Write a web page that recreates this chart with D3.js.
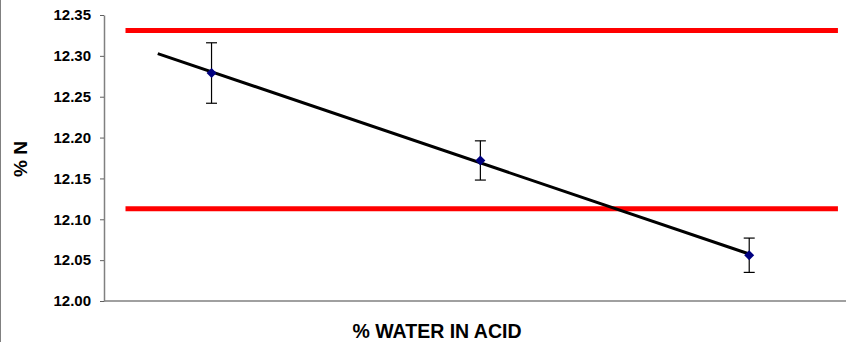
<!DOCTYPE html>
<html>
<head>
<meta charset="utf-8">
<script src="https://cdn.jsdelivr.net/npm/d3@7"></script>
<style>
  html, body { margin: 0; padding: 0; background: #fff; }
  svg { display: block; font-family: Arial, "Liberation Sans", sans-serif; }
</style>
</head>
<body>
<svg id="chart" width="846" height="342"></svg>
<script>
// Sample positions (water content, arbitrary units) and measured nitrogen
const waterLevels = [1, 2, 3];
const nitrogenPct = [12.279, 12.172, 12.056];
const nitrogenErr = [0.037, 0.024, 0.021];

// Specification limits for % N
const specLimits = [12.113, 12.331];
const specSpan = [0.68, 3.33];

// Trendline drawn from this x (backward forecast) to the last sample
const trendStart = 0.8;

const yTicks = [12.00, 12.05, 12.10, 12.15, 12.20, 12.25, 12.30, 12.35];
const xTitle = "% WATER IN ACID";
const yTitle = "% N";

const W = 846, H = 342;
const plot = { left: 104, right: 846, top: 15, bottom: 301 };

const svg = d3.select("#chart");

// Frame edge on the left
svg.append("line")
  .attr("x1", 0.5).attr("x2", 0.5).attr("y1", 0).attr("y2", H)
  .attr("stroke", "#808080").attr("stroke-width", 1);

const x = d3.scaleLinear().domain([0.6, 3.36]).range([plot.left, plot.right]);
const y = d3.scaleLinear().domain([12.00, 12.35]).range([plot.bottom, plot.top]);

// Y axis
const yAxis = svg.append("g")
  .attr("transform", `translate(${plot.left},0)`)
  .call(d3.axisLeft(y).tickValues(yTicks).tickFormat(d3.format(".2f")).tickSize(4).tickSizeOuter(0).tickPadding(9));
yAxis.select(".domain").attr("stroke", "#808080").attr("stroke-width", 1.5);
yAxis.selectAll(".tick line").attr("stroke", "#606060");
yAxis.selectAll(".tick text")
  .attr("font-size", 15).attr("font-weight", "bold")
  .attr("font-family", "Arial, 'Liberation Sans', sans-serif")
  .attr("fill", "#000");

// X axis line (no tick labels)
svg.append("line")
  .attr("x1", plot.left).attr("x2", plot.right)
  .attr("y1", plot.bottom).attr("y2", plot.bottom)
  .attr("stroke", "#808080").attr("stroke-width", 1.5);

// Specification limit lines
svg.append("g").selectAll("line").data(specLimits).join("line")
  .attr("x1", x(specSpan[0])).attr("x2", x(specSpan[1]))
  .attr("y1", d => y(d)).attr("y2", d => y(d))
  .attr("stroke", "#ff0000").attr("stroke-width", 5);

// Least-squares linear trendline
const mx = d3.mean(waterLevels), my = d3.mean(nitrogenPct);
const slope = d3.sum(waterLevels, (v, i) => (v - mx) * (nitrogenPct[i] - my)) /
              d3.sum(waterLevels, v => (v - mx) * (v - mx));
const icpt = my - slope * mx;
const trendEnd = d3.max(waterLevels);
svg.append("line")
  .attr("x1", x(trendStart)).attr("y1", y(icpt + slope * trendStart))
  .attr("x2", x(trendEnd)).attr("y2", y(icpt + slope * trendEnd))
  .attr("stroke", "#000").attr("stroke-width", 3);

const pts = waterLevels.map((w, i) => ({ w, v: nitrogenPct[i], e: nitrogenErr[i] }));

// Error bars
const eb = svg.append("g").attr("stroke", "#000").attr("stroke-width", 1.2);
const cap = 5.5;
pts.forEach(p => {
  const cx = x(p.w);
  eb.append("line").attr("x1", cx).attr("x2", cx).attr("y1", y(p.v + p.e)).attr("y2", y(p.v - p.e));
  eb.append("line").attr("x1", cx - cap).attr("x2", cx + cap).attr("y1", y(p.v + p.e)).attr("y2", y(p.v + p.e));
  eb.append("line").attr("x1", cx - cap).attr("x2", cx + cap).attr("y1", y(p.v - p.e)).attr("y2", y(p.v - p.e));
});

// Diamond markers
const r = 5;
svg.append("g").selectAll("path").data(pts).join("path")
  .attr("d", p => {
    const cx = x(p.w), cy = y(p.v);
    return `M${cx},${cy - r}L${cx + r},${cy}L${cx},${cy + r}L${cx - r},${cy}Z`;
  })
  .attr("fill", "#000080");

// Axis titles
svg.append("text")
  .attr("x", 437).attr("y", 338)
  .attr("text-anchor", "middle")
  .attr("font-size", 19.5).attr("font-weight", "bold")
  .text(xTitle);

svg.append("text")
  .attr("transform", "translate(27,159) rotate(-90)")
  .attr("text-anchor", "middle")
  .attr("font-size", 19).attr("font-weight", "bold")
  .text(yTitle);
</script>
</body>
</html>
